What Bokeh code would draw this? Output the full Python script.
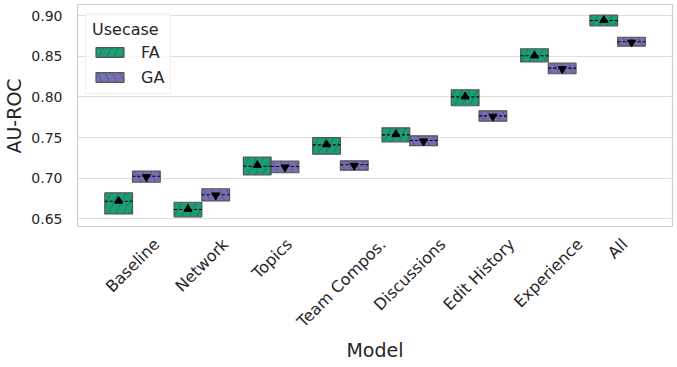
import math
from bokeh.plotting import figure
from bokeh.layouts import column
from bokeh.models import (Range1d, FixedTicker, NumeralTickFormatter, Legend,
                          LegendItem, ColumnDataSource)
from bokeh.core.properties import value
from bokeh.embed import file_html
from bokeh.resources import INLINE

# ---------------- data ----------------
models = ["Baseline", "Network", "Topics", "Team Compos.", "Discussions",
          "Edit History", "Experience", "All"]

fa_q1 = [0.656, 0.6525, 0.7042, 0.7296, 0.7448, 0.7892, 0.8433, 0.8877]
fa_q3 = [0.682, 0.6704, 0.7259, 0.7500, 0.7620, 0.8089, 0.8594, 0.9007]
fa_median = [0.6717, 0.6615, 0.7148, 0.7411, 0.7534, 0.8002, 0.8507, 0.8942]
fa_mean = [0.6720, 0.6620, 0.7160, 0.7415, 0.7540, 0.8005, 0.8510, 0.8945]

ga_q1 = [0.6950, 0.6720, 0.7067, 0.7099, 0.7400, 0.7702, 0.8286, 0.8626]
ga_q3 = [0.7086, 0.6870, 0.7210, 0.7214, 0.7522, 0.7830, 0.8416, 0.8736]
ga_median = [0.7025, 0.6796, 0.7144, 0.7165, 0.7464, 0.7768, 0.8355, 0.8680]
ga_mean = [0.7015, 0.6790, 0.7135, 0.7155, 0.7455, 0.7760, 0.8345, 0.8672]

usecases = ["FA", "GA"]
y_ticks = [0.65, 0.70, 0.75, 0.80, 0.85, 0.90]

# ---------------- style ----------------
FA_COLOR = "#1b9e77"
GA_COLOR = "#7570b3"
TEXT = "#262626"
FONT = "DejaVu Sans"
BOX_W = 0.4

# DejaVu Sans advance widths (em) for centring rotated tick labels
_W = {"A": .684, "B": .686, "C": .698, "D": .770, "E": .632, "H": .752,
      "N": .748, "T": .611, "a": .613, "c": .550, "d": .635, "e": .615,
      "i": .278, "k": .579, "l": .278, "m": .974, "n": .634, "o": .612,
      "p": .635, "r": .411, "s": .521, "t": .392, "u": .634, "w": .818,
      "x": .592, "y": .592, " ": .318, ".": .318}
XLAB_SIZE = 16

x_range = Range1d(-0.794, 7.792)

# ================= main axes =================
p = figure(width=677, height=227,
           x_range=x_range, y_range=Range1d(0.6393, 0.9139),
           output_backend="svg", toolbar_location=None,
           min_border_left=77, min_border_right=5, min_border_top=4,
           min_border_bottom=0)
p.background_fill_color = "white"
p.border_fill_color = "white"
p.outline_line_color = "#cccccc"
p.outline_line_width = 1.2

idx = list(range(len(models)))

src_fa = ColumnDataSource(dict(
    left=[i - BOX_W for i in idx], right=[float(i) for i in idx],
    center=[i - BOX_W / 2 for i in idx],
    q1=fa_q1, q3=fa_q3, med=fa_median, mean=fa_mean))
src_ga = ColumnDataSource(dict(
    left=[float(i) for i in idx], right=[i + BOX_W for i in idx],
    center=[i + BOX_W / 2 for i in idx],
    q1=ga_q1, q3=ga_q3, med=ga_median, mean=ga_mean))

box_kw = dict(line_color="#555555", line_width=1.2, hatch_color="#333333",
              hatch_alpha=0.5, hatch_scale=15, hatch_weight=0.8)
r_fa = p.quad(left="left", right="right", bottom="q1", top="q3", source=src_fa,
              fill_color=FA_COLOR, hatch_pattern="/", **box_kw)
r_ga = p.quad(left="left", right="right", bottom="q1", top="q3", source=src_ga,
              fill_color=GA_COLOR, hatch_pattern="\\", **box_kw)

for src in (src_fa, src_ga):
    p.segment(x0="left", x1="right", y0="med", y1="med", source=src,
              line_color="black", line_width=1.1, line_dash="3 2")

p.scatter(x="center", y="mean", source=src_fa, marker="triangle", size=8,
          fill_color="black", line_color="black")
p.scatter(x="center", y="mean", source=src_ga, marker="inverted_triangle",
          size=8, fill_color="black", line_color="black")

p.xgrid.visible = False
p.xaxis.visible = False
p.ygrid.ticker = FixedTicker(ticks=y_ticks)
p.ygrid.grid_line_color = "#dedede"
p.ygrid.grid_line_width = 1.2

yax = p.yaxis[0]
yax.ticker = FixedTicker(ticks=y_ticks)
yax.formatter = NumeralTickFormatter(format="0.00")
yax.axis_label = "AU-ROC"
yax.axis_line_color = None
yax.major_tick_line_color = None
yax.minor_tick_line_color = None
yax.major_tick_out = 0
yax.minor_tick_out = 0
yax.major_label_standoff = 15
yax.major_label_text_font = FONT
yax.major_label_text_color = TEXT
yax.major_label_text_font_size = "14px"
yax.axis_label_text_font = FONT
yax.axis_label_text_font_style = "normal"
yax.axis_label_text_font_size = "19px"
yax.axis_label_text_color = TEXT
yax.axis_label_standoff = 3

legend = Legend(items=[LegendItem(label=usecases[0], renderers=[r_fa]),
                       LegendItem(label=usecases[1], renderers=[r_ga])],
                title="Usecase", location=(8, 133))
legend.title_text_font = FONT
legend.title_text_font_size = "16px"
legend.title_text_font_style = "normal"
legend.title_text_color = TEXT
legend.title_standoff = 3
legend.label_text_font = FONT
legend.label_text_font_size = "16px"
legend.label_text_color = TEXT
legend.glyph_width = 35
legend.glyph_height = 12
legend.label_standoff = 14
legend.label_height = 20
legend.spacing = 5
legend.padding = 6
legend.margin = 0
legend.border_line_color = "#dddddd"
legend.background_fill_alpha = 0.8
p.add_layout(legend)

# ================= category labels + x-axis title =================
q = figure(width=677, height=140, x_range=x_range, y_range=Range1d(0, 1),
           output_backend="svg", toolbar_location=None,
           min_border_left=77, min_border_right=5, min_border_top=0,
           min_border_bottom=29)
q.outline_line_color = None
q.background_fill_color = "white"
q.border_fill_color = "white"
q.grid.visible = False
q.yaxis.visible = False
xax = q.xaxis[0]
xax.ticker = FixedTicker(ticks=[])
xax.axis_line_color = None
xax.major_tick_out = 0
xax.minor_tick_out = 0
xax.major_label_standoff = 0
xax.axis_label = "Model"
xax.axis_label_standoff = 0
xax.axis_label_text_font = FONT
xax.axis_label_text_font_style = "normal"
xax.axis_label_text_font_size = "19px"
xax.axis_label_text_color = TEXT

# rotated labels, centred on the category like matplotlib's ha="center"
xoff = [sum(_W.get(c, 0.6) for c in m) * XLAB_SIZE / (2 * math.sqrt(2))
        for m in models]
lab_src = ColumnDataSource(dict(x=idx, y=[1.0] * len(models), text=models,
                                xoff=xoff))
q.text(x="x", y="y", text="text", x_offset="xoff", y_offset=14,
       angle=math.pi / 4, text_align="right", text_baseline="middle",
       text_font=value(FONT), text_font_size=f"{XLAB_SIZE}px",
       text_color=TEXT, source=lab_src)

layout = column(p, q, spacing=0)

with open("out.html", "w") as f:
    f.write(file_html(layout, INLINE))
